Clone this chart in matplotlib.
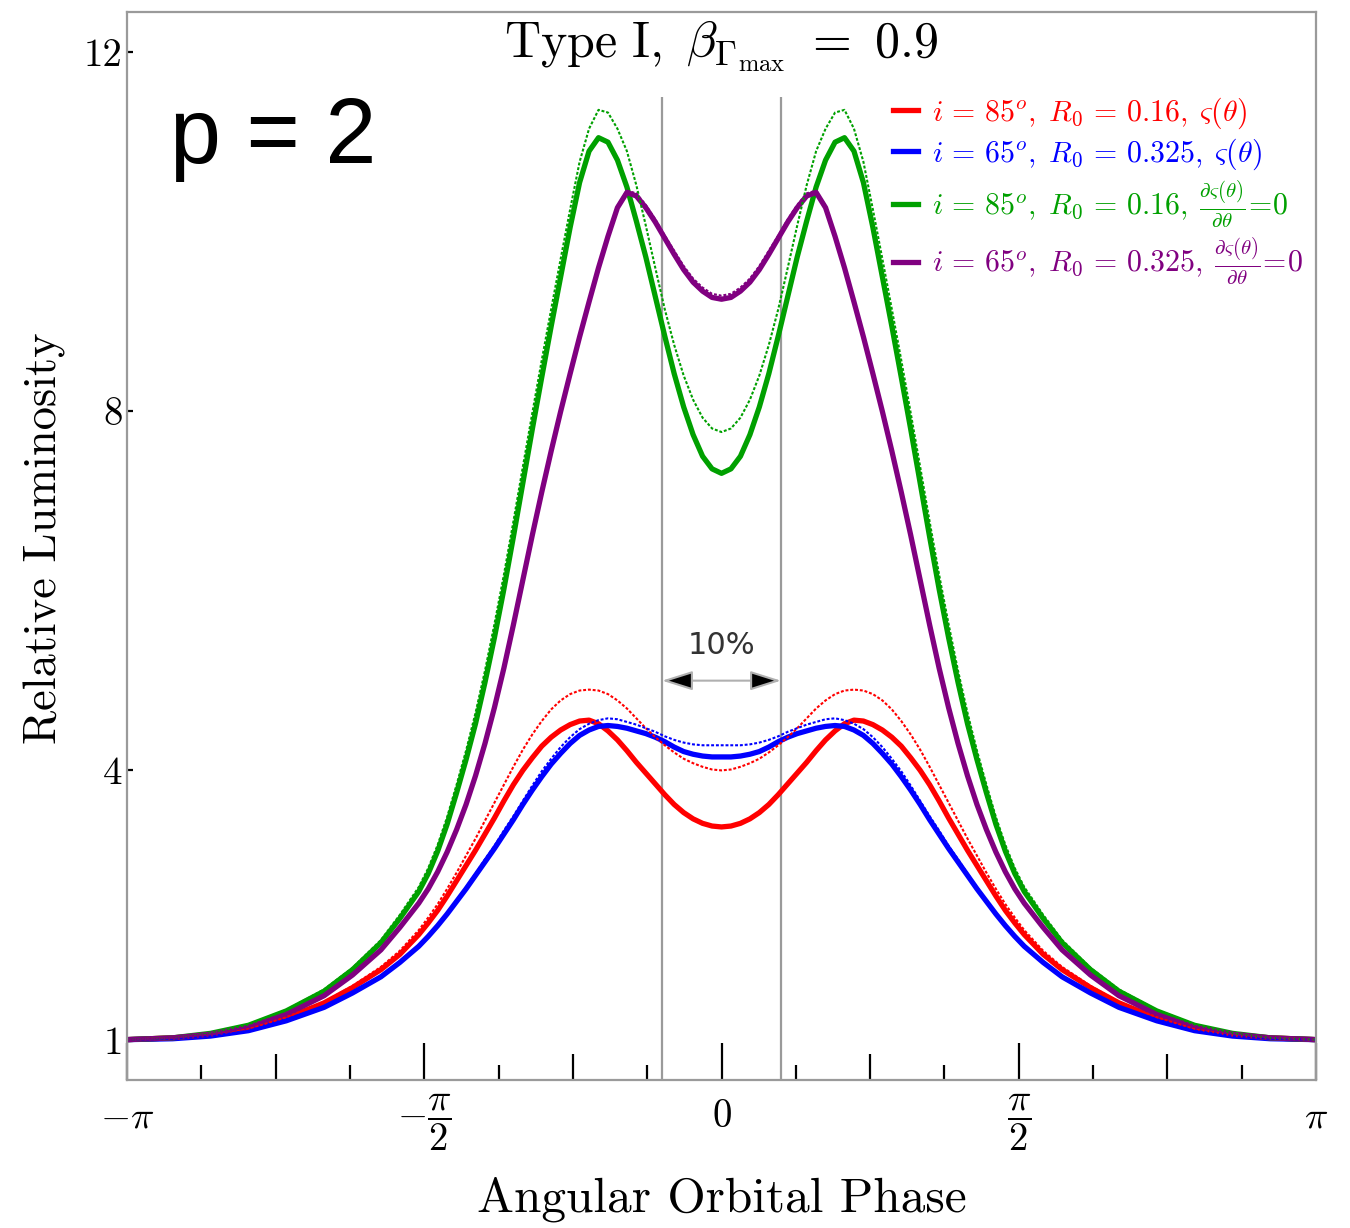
import numpy as np
import matplotlib.pyplot as plt
from matplotlib.lines import Line2D

plt.rcParams['font.family'] = 'cmr10'
plt.rcParams['mathtext.fontset'] = 'cm'
plt.rcParams['axes.unicode_minus'] = False

# orbital phase grid (radians)
phase = np.array([
    -np.pi, -2.9, -2.7, -2.5, -2.3, -2.1, -1.95, -1.8, -1.7,
    -1.6, -1.55, -1.5, -1.45, -1.4, -1.35, -1.3, -1.25, -1.2, -1.15, -1.1, -1.05,
    -1.0, -0.95, -0.9, -0.85, -0.8, -0.75, -0.7, -0.65, -0.6, -0.55, -0.5, -0.45,
    -0.4, -0.35, -0.3, -0.25, -0.2, -0.15, -0.1, -0.05, 0.0,
    0.05, 0.1, 0.15, 0.2, 0.25, 0.3, 0.35, 0.4,
    0.45, 0.5, 0.55, 0.6, 0.65, 0.7, 0.75, 0.8, 0.85, 0.9, 0.95, 1.0,
    1.05, 1.1, 1.15, 1.2, 1.25, 1.3, 1.35, 1.4, 1.45, 1.5, 1.55, 1.6,
    1.7, 1.8, 1.95, 2.1, 2.3, 2.5, 2.7, 2.9, np.pi])

# i = 85, R0 = 0.16, varying varsigma
red_solid = [
    1.00, 1.02, 1.05, 1.12, 1.24, 1.41, 1.58, 1.78, 1.95,
    2.17, 2.30, 2.44, 2.60, 2.77, 2.94, 3.11, 3.29, 3.47, 3.66, 3.84, 4.00,
    4.14, 4.27, 4.37, 4.45, 4.51, 4.55, 4.56, 4.52, 4.44, 4.34, 4.22, 4.09,
    3.97, 3.85, 3.73, 3.62, 3.53, 3.46, 3.41, 3.38, 3.37,
    3.38, 3.41, 3.46, 3.53, 3.62, 3.73, 3.85, 3.97,
    4.09, 4.22, 4.34, 4.44, 4.52, 4.56, 4.55, 4.51, 4.45, 4.37, 4.27, 4.14,
    4.00, 3.84, 3.66, 3.47, 3.29, 3.11, 2.94, 2.77, 2.60, 2.44, 2.30, 2.17,
    1.95, 1.78, 1.58, 1.41, 1.24, 1.12, 1.05, 1.02, 1.00]
red_dot = [
    1.00, 1.02, 1.05, 1.12, 1.25, 1.42, 1.60, 1.81, 1.99,
    2.22, 2.36, 2.51, 2.68, 2.86, 3.05, 3.24, 3.44, 3.64, 3.84, 4.04, 4.23,
    4.40, 4.55, 4.68, 4.78, 4.85, 4.89, 4.90, 4.89, 4.85, 4.78, 4.69, 4.58,
    4.47, 4.37, 4.28, 4.20, 4.13, 4.08, 4.04, 4.01, 4.00,
    4.01, 4.04, 4.08, 4.13, 4.20, 4.28, 4.37, 4.47,
    4.58, 4.69, 4.78, 4.85, 4.89, 4.90, 4.89, 4.85, 4.78, 4.68, 4.55, 4.40,
    4.23, 4.04, 3.84, 3.64, 3.44, 3.24, 3.05, 2.86, 2.68, 2.51, 2.36, 2.22,
    1.99, 1.81, 1.60, 1.42, 1.25, 1.12, 1.05, 1.02, 1.00]

# i = 65, R0 = 0.325, varying varsigma
blue_solid = [
    1.00, 1.01, 1.04, 1.10, 1.21, 1.36, 1.52, 1.70, 1.86,
    2.04, 2.15, 2.27, 2.40, 2.54, 2.68, 2.83, 2.98, 3.13, 3.29, 3.45, 3.62,
    3.78, 3.93, 4.07, 4.19, 4.30, 4.39, 4.45, 4.49, 4.50, 4.49, 4.47, 4.44,
    4.41, 4.37, 4.32, 4.26, 4.21, 4.18, 4.16, 4.15, 4.15,
    4.15, 4.16, 4.18, 4.21, 4.26, 4.32, 4.37, 4.41,
    4.44, 4.47, 4.49, 4.50, 4.49, 4.45, 4.39, 4.30, 4.19, 4.07, 3.93, 3.78,
    3.62, 3.45, 3.29, 3.13, 2.98, 2.83, 2.68, 2.54, 2.40, 2.27, 2.15, 2.04,
    1.86, 1.70, 1.52, 1.36, 1.21, 1.10, 1.04, 1.01, 1.00]
blue_dot = [
    1.00, 1.01, 1.04, 1.10, 1.21, 1.36, 1.52, 1.70, 1.86,
    2.04, 2.16, 2.28, 2.41, 2.55, 2.70, 2.85, 3.01, 3.16, 3.33, 3.49, 3.66,
    3.83, 3.99, 4.13, 4.26, 4.37, 4.46, 4.52, 4.56, 4.58, 4.57, 4.54, 4.51,
    4.47, 4.43, 4.38, 4.34, 4.31, 4.29, 4.28, 4.28, 4.28,
    4.28, 4.28, 4.29, 4.31, 4.34, 4.38, 4.43, 4.47,
    4.51, 4.54, 4.57, 4.58, 4.56, 4.52, 4.46, 4.37, 4.26, 4.13, 3.99, 3.83,
    3.66, 3.49, 3.33, 3.16, 3.01, 2.85, 2.70, 2.55, 2.41, 2.28, 2.16, 2.04,
    1.86, 1.70, 1.52, 1.36, 1.21, 1.10, 1.04, 1.01, 1.00]

# i = 85, R0 = 0.16, constant varsigma
green_solid = [
    1.00, 1.02, 1.07, 1.16, 1.32, 1.54, 1.78, 2.08, 2.35,
    2.65, 2.85, 3.10, 3.40, 3.75, 4.12, 4.52, 4.98, 5.48, 6.02, 6.60, 7.20,
    7.80, 8.38, 8.95, 9.50, 10.05, 10.55, 10.90, 11.05, 11.00, 10.80, 10.50, 10.12,
    9.72, 9.28, 8.84, 8.42, 8.05, 7.74, 7.50, 7.36, 7.31,
    7.36, 7.50, 7.74, 8.05, 8.42, 8.84, 9.28, 9.72,
    10.12, 10.50, 10.80, 11.00, 11.05, 10.90, 10.55, 10.05, 9.50, 8.95, 8.38, 7.80,
    7.20, 6.60, 6.02, 5.48, 4.98, 4.52, 4.12, 3.75, 3.40, 3.10, 2.85, 2.65,
    2.35, 2.08, 1.78, 1.54, 1.32, 1.16, 1.07, 1.02, 1.00]
green_dot = [
    1.00, 1.02, 1.07, 1.17, 1.33, 1.56, 1.80, 2.11, 2.39,
    2.70, 2.91, 3.17, 3.48, 3.84, 4.22, 4.64, 5.11, 5.63, 6.18, 6.77, 7.38,
    7.98, 8.57, 9.14, 9.70, 10.25, 10.78, 11.15, 11.36, 11.33, 11.15, 10.90, 10.52,
    10.07, 9.60, 9.14, 8.74, 8.40, 8.13, 7.93, 7.81, 7.77,
    7.81, 7.93, 8.13, 8.40, 8.74, 9.14, 9.60, 10.07,
    10.52, 10.90, 11.15, 11.33, 11.36, 11.15, 10.78, 10.25, 9.70, 9.14, 8.57, 7.98,
    7.38, 6.77, 6.18, 5.63, 5.11, 4.64, 4.22, 3.84, 3.48, 3.17, 2.91, 2.70,
    2.39, 2.11, 1.80, 1.56, 1.33, 1.17, 1.07, 1.02, 1.00]

# i = 65, R0 = 0.325, constant varsigma
purple_solid = [
    1.00, 1.02, 1.06, 1.14, 1.28, 1.49, 1.72, 2.00, 2.25,
    2.52, 2.68, 2.87, 3.09, 3.34, 3.62, 3.94, 4.30, 4.70, 5.14, 5.62, 6.12,
    6.62, 7.10, 7.56, 8.00, 8.42, 8.83, 9.22, 9.60, 9.95, 10.27, 10.44, 10.40,
    10.27, 10.11, 9.93, 9.75, 9.58, 9.44, 9.34, 9.27, 9.25,
    9.27, 9.34, 9.44, 9.58, 9.75, 9.93, 10.11, 10.27,
    10.40, 10.44, 10.27, 9.95, 9.60, 9.22, 8.83, 8.42, 8.00, 7.56, 7.10, 6.62,
    6.12, 5.62, 5.14, 4.70, 4.30, 3.94, 3.62, 3.34, 3.09, 2.87, 2.68, 2.52,
    2.25, 2.00, 1.72, 1.49, 1.28, 1.14, 1.06, 1.02, 1.00]
purple_dot = [
    1.00, 1.02, 1.06, 1.14, 1.28, 1.49, 1.72, 2.00, 2.25,
    2.52, 2.68, 2.87, 3.09, 3.34, 3.62, 3.94, 4.30, 4.70, 5.14, 5.62, 6.12,
    6.62, 7.10, 7.56, 8.00, 8.42, 8.83, 9.22, 9.60, 9.97, 10.29, 10.46, 10.43,
    10.30, 10.14, 9.96, 9.79, 9.62, 9.48, 9.38, 9.31, 9.29,
    9.31, 9.38, 9.48, 9.62, 9.79, 9.96, 10.14, 10.30,
    10.43, 10.46, 10.29, 9.97, 9.60, 9.22, 8.83, 8.42, 8.00, 7.56, 7.10, 6.62,
    6.12, 5.62, 5.14, 4.70, 4.30, 3.94, 3.62, 3.34, 3.09, 2.87, 2.68, 2.52,
    2.25, 2.00, 1.72, 1.49, 1.28, 1.14, 1.06, 1.02, 1.00]

colors = ['#ff0000', '#0000ff', '#00a000', '#800080']
solid = [red_solid, blue_solid, green_solid, purple_solid]
dotted = [red_dot, blue_dot, green_dot, purple_dot]
labels = [
    r'$i\,=\,85^o,\;R_0\,=\,0.16,\;\varsigma(\theta)$',
    r'$i\,=\,65^o,\;R_0\,=\,0.325,\;\varsigma(\theta)$',
    r'$i\,=\,85^o,\;R_0\,=\,0.16,\;\frac{\partial\varsigma(\theta)}{\partial\theta}\!=\!0$',
    r'$i\,=\,65^o,\;R_0\,=\,0.325,\;\frac{\partial\varsigma(\theta)}{\partial\theta}\!=\!0$',
]
window = 0.1 * np.pi  # half width of the 10% phase window

fig = plt.figure(figsize=(13.5, 12.28), dpi=100)
ax = fig.add_axes([0.0941, 0.1205, 0.8807, 0.8697])

for c, ys in zip(colors, solid):
    ax.plot(phase, ys, color=c, lw=3.8, solid_joinstyle='round')
for c, ys in zip(colors, dotted):
    ax.plot(phase, ys, color=c, lw=1.5, ls=(0, (1.4, 0.9)))

ax.vlines([-window, window], 0, 11.5, colors='#9a9a9a', lw=1.6, zorder=1)
ax.annotate('', xy=(window, 5.0), xytext=(-window, 5.0),
            arrowprops=dict(arrowstyle='<|-|>,head_length=0.95,head_width=0.3',
                            mutation_scale=20, fc='black', ec='#b0b0b0', lw=1.5,
                            shrinkA=0, shrinkB=0))
ax.text(0, 5.39, '10%', ha='center', va='center', fontsize=22,
        family='DejaVu Sans', color='#333333')

ax.set_xlim(-np.pi, np.pi)
ax.set_ylim(0.55, 12.45)

# ticks every pi/8, labelled at multiples of pi/2
ks = np.arange(-8, 9)
names = {-8: r'$-\pi$', -4: r'$-\dfrac{\pi}{2}$', 0: r'$0$',
         4: r'$\dfrac{\pi}{2}$', 8: r'$\pi$'}
ax.set_xticks(ks * np.pi / 8, [names.get(k, '') for k in ks])
ax.tick_params(axis='x', direction='in', width=1.6, color='black', labelsize=28, pad=34)
for k, tick in zip(ks, ax.xaxis.get_major_ticks()):
    tick.tick1line.set_markersize(27 if k % 4 == 0 else (19 if k % 2 == 0 else 11))
for lbl in ax.get_xticklabels():
    lbl.set_verticalalignment('baseline')

ax.set_yticks([1, 4, 8, 12], ['1', '4', '8', '12'])
ax.tick_params(axis='y', direction='in', length=4, width=1.6, color='black',
               labelsize=28, pad=3)

for sp in ax.spines.values():
    sp.set_color('#9a9a9a')
    sp.set_linewidth(1.6)

ax.set_xlabel('Angular Orbital Phase', fontsize=35.5, va='center')
ax.xaxis.set_label_coords(0.5, -0.112)
ax.set_ylabel('Relative Luminosity', fontsize=33.5, va='center')
ax.yaxis.set_label_coords(-0.069, 0.507)

ax.text(0.5, 0.969, r'$\mathrm{Type\ I},\ \beta_{\Gamma_{\mathrm{max}}}\ =\ 0.9$',
        transform=ax.transAxes, ha='center', va='center', fontsize=36)
ax.text(0.036, 0.859, 'p = 2', transform=ax.transAxes, ha='left', va='baseline',
        fontsize=66, family='Liberation Sans')

handles = [Line2D([], [], color=c, lw=3.8) for c in colors]
ax.legend(handles, labels, loc='upper left', bbox_to_anchor=(0.644, 0.922),
          frameon=False, fontsize=21.5, handlelength=0.85, handletextpad=0.45,
          borderpad=0, borderaxespad=0, labelspacing=0.2, labelcolor='linecolor')

fig.savefig('out.png', dpi=100)
